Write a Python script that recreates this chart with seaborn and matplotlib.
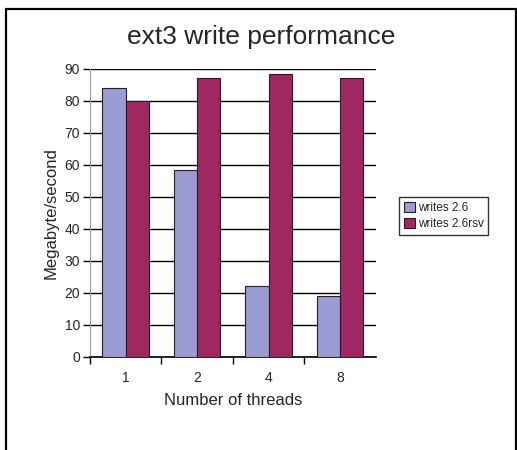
import pandas as pd
import matplotlib
matplotlib.use("Agg")
import matplotlib.pyplot as plt
import seaborn as sns

# dados
threads = ["1", "2", "4", "8"]
writes_26 = [84, 58.5, 22, 19]
writes_26rsv = [80, 87, 88.3, 87]
series = ["writes 2.6", "writes 2.6rsv"]

df = pd.DataFrame({
    "threads": threads * 2,
    "mbs": writes_26 + writes_26rsv,
    "serie": [series[0]] * 4 + [series[1]] * 4,
})

sns.set_style("white")
plt.rcParams["font.family"] = ["Liberation Sans", "DejaVu Sans"]

fig = plt.figure(figsize=(5.17, 4.5), dpi=100)
ax = fig.add_axes([0.174, 0.207, 0.553, 0.64])

sns.barplot(
    data=df, x="threads", y="mbs", hue="serie",
    palette=["#9b9bd4", "#a02860"], saturation=1, width=0.65,
    edgecolor="#2a1a2a", linewidth=0.8, ax=ax, zorder=3,
)

ax.set_ylim(0, 90)
ax.set_xlim(-0.5, 3.5)
ax.set_yticks(range(0, 91, 10))
ax.yaxis.grid(True, color="black", linewidth=1.0, zorder=0)
ax.set_axisbelow(True)

# ticks do eixo x entre os grupos
ax.set_xticks([-0.5, 0.5, 1.5, 2.5], minor=True)
ax.tick_params(axis="x", which="major", length=0, labelsize=10, pad=10)
ax.tick_params(axis="x", which="minor", length=5, width=1, color="black", direction="out", bottom=True)
ax.tick_params(axis="y", length=5, width=1, color="black", direction="out", left=True, labelsize=10, pad=2)

for s in ["top", "right"]:
    ax.spines[s].set_visible(False)
ax.spines["left"].set_color("#999999")
ax.spines["bottom"].set_color("black")
ax.spines["bottom"].set_linewidth(1.2)

ax.set_xlabel("Number of threads", fontsize=12, labelpad=6)
ax.set_ylabel("Megabyte/second", fontsize=12, labelpad=4)
fig.text(0.505, 0.918, "ext3 write performance", fontsize=19, ha="center", va="center")

leg = ax.legend(
    loc="center left", bbox_to_anchor=(1.06, 0.49), fontsize=8.5,
    frameon=True, fancybox=False, edgecolor="black", handlelength=1.0,
    handleheight=1.0, handletextpad=0.2, borderpad=0.4, labelspacing=0.3,
)
leg.get_frame().set_linewidth(1.0)
leg.set_title(None)

# moldura da figura (sem linha embaixo)
for xs, ys in [([0.012, 0.012], [0, 0.98]), ([0.012, 0.998], [0.98, 0.98]), ([0.998, 0.998], [0, 0.98])]:
    fig.add_artist(plt.Line2D(xs, ys, color="black", linewidth=1.6, transform=fig.transFigure))

fig.savefig("out.png", dpi=100)
plt.close(fig)
